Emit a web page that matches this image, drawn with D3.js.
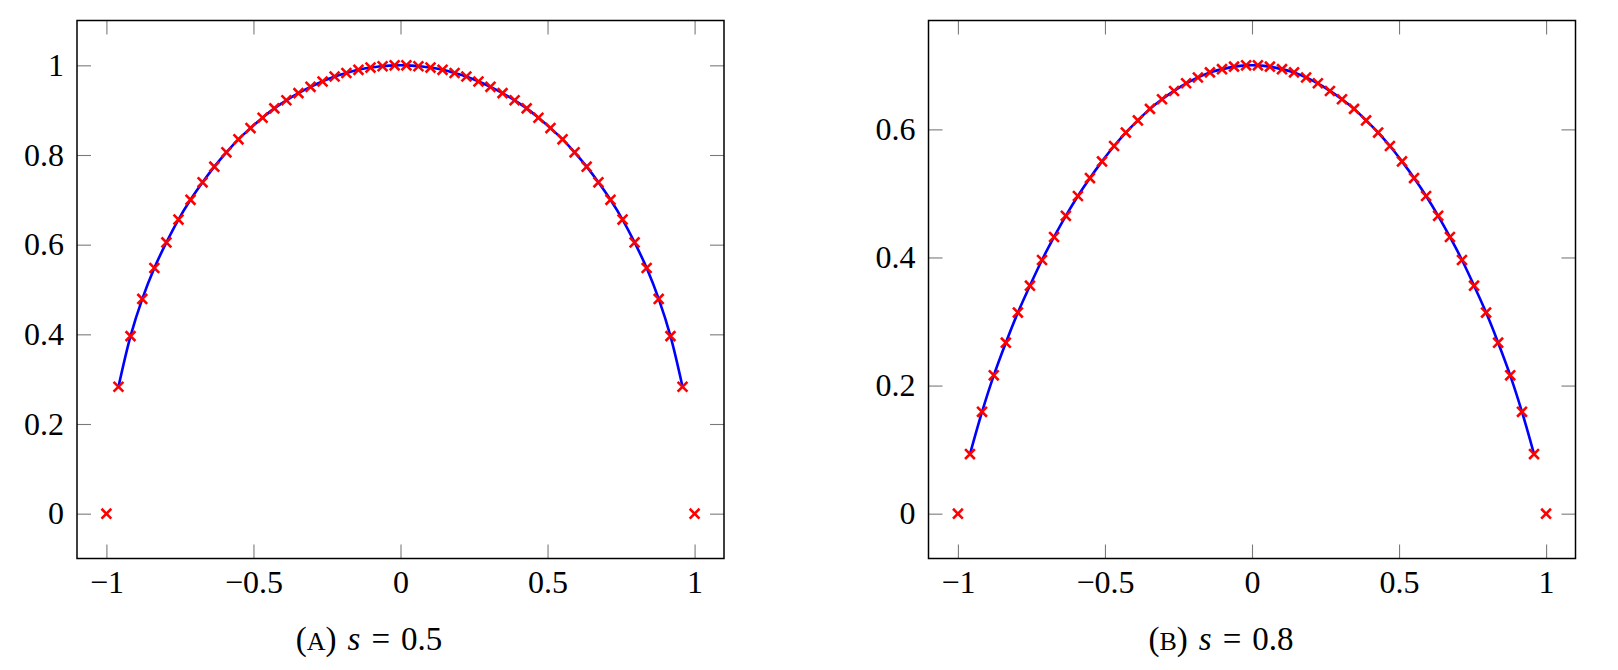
<!DOCTYPE html>
<html><head><meta charset="utf-8">
<script src="https://cdn.jsdelivr.net/npm/d3@7"></script>
<style>
body{margin:0;background:#fff}
svg text{font-family:"Liberation Serif","Times New Roman",serif;fill:#000}
</style>
</head><body>
<svg id="chart" width="1618" height="670"></svg>
<script>
// ---- data ----
const xNodes = [-1, -0.959, -0.918, -0.878, -0.837, -0.796, -0.755, -0.714, -0.673, -0.633,
  -0.592, -0.551, -0.510, -0.469, -0.429, -0.388, -0.347, -0.306, -0.265, -0.224,
  -0.184, -0.143, -0.102, -0.061, -0.020, 0.020, 0.061, 0.102, 0.143, 0.184,
  0.224, 0.265, 0.306, 0.347, 0.388, 0.429, 0.469, 0.510, 0.551, 0.592,
  0.633, 0.673, 0.714, 0.755, 0.796, 0.837, 0.878, 0.918, 0.959, 1];
const yA = [0, 0.283, 0.396, 0.479, 0.548, 0.605, 0.656, 0.700, 0.739, 0.774,
  0.806, 0.835, 0.860, 0.883, 0.904, 0.922, 0.938, 0.952, 0.964, 0.975,
  0.983, 0.990, 0.995, 0.998, 1.000, 1.000, 0.998, 0.995, 0.990, 0.983,
  0.975, 0.964, 0.952, 0.938, 0.922, 0.904, 0.883, 0.860, 0.835, 0.806,
  0.774, 0.739, 0.700, 0.656, 0.605, 0.548, 0.479, 0.396, 0.283, 0];
const yB = [0, 0.093, 0.159, 0.216, 0.267, 0.314, 0.356, 0.396, 0.432, 0.465,
  0.496, 0.524, 0.550, 0.574, 0.595, 0.614, 0.632, 0.647, 0.660, 0.672,
  0.681, 0.689, 0.694, 0.698, 0.700, 0.700, 0.698, 0.694, 0.689, 0.681,
  0.672, 0.660, 0.647, 0.632, 0.614, 0.595, 0.574, 0.550, 0.524, 0.496,
  0.465, 0.432, 0.396, 0.356, 0.314, 0.267, 0.216, 0.159, 0.093, 0];
const xTicks = [-1, -0.5, 0, 0.5, 1];
const yTicksA = [0, 0.2, 0.4, 0.6, 0.8, 1];
const yTicksB = [0, 0.2, 0.4, 0.6];
const captionLetters = ["A", "B"];
const sValues = ["0.5", "0.8"];

// ---- layout ----
const panels = [
  {left: 77, right: 724, top: 20.5, bottom: 558.5, xDom: [-1.1, 1.1], yDom: [-0.1, 1.1],
   ys: yA, yTicks: yTicksA, capX: 369, letter: captionLetters[0], s: sValues[0]},
  {left: 928.5, right: 1575.5, top: 20.5, bottom: 558.5, xDom: [-1.1, 1.1], yDom: [-0.07, 0.77],
   ys: yB, yTicks: yTicksB, capX: 1221, letter: captionLetters[1], s: sValues[1]}
];

const svg = d3.select("#chart");
const TICK = 14, FS = 32, TICK_COLOR = "#7a7a7a";
const fmt = d3.format("");

panels.forEach(p => {
  const x = d3.scaleLinear().domain(p.xDom).range([p.left, p.right]);
  const y = d3.scaleLinear().domain(p.yDom).range([p.bottom, p.top]);
  const g = svg.append("g");

  function styleAxis(sel) {
    sel.select(".domain").remove();
    sel.selectAll(".tick line").attr("stroke", TICK_COLOR).attr("stroke-width", 1.1);
    sel.selectAll(".tick text").attr("font-size", FS).attr("fill", "#000");
  }

  g.append("g").attr("transform", `translate(0,${p.bottom})`)
    .call(d3.axisBottom(x).tickValues(xTicks).tickSize(-TICK).tickPadding(12).tickFormat(fmt))
    .call(styleAxis);
  g.append("g").attr("transform", `translate(0,${p.top})`)
    .call(d3.axisTop(x).tickValues(xTicks).tickSize(-TICK).tickFormat(""))
    .call(styleAxis);
  g.append("g").attr("transform", `translate(${p.left},0)`)
    .call(d3.axisLeft(y).tickValues(p.yTicks).tickSize(-TICK).tickPadding(13).tickFormat(fmt))
    .call(styleAxis);
  g.append("g").attr("transform", `translate(${p.right},0)`)
    .call(d3.axisRight(y).tickValues(p.yTicks).tickSize(-TICK).tickFormat(""))
    .call(styleAxis);

  g.append("rect").attr("x", p.left).attr("y", p.top)
    .attr("width", p.right - p.left).attr("height", p.bottom - p.top)
    .attr("fill", "none").attr("stroke", "#000").attr("stroke-width", 1.5);

  const pts = xNodes.map((xv, i) => ({x: xv, y: p.ys[i]}));
  const interior = pts.slice(1, -1);
  g.append("path").datum(interior)
    .attr("fill", "none").attr("stroke", "#0000ff").attr("stroke-width", 2.6)
    .attr("stroke-linejoin", "round")
    .attr("d", d3.line().x(d => x(d.x)).y(d => y(d.y)).curve(d3.curveCatmullRom));

  const r = 4.9;
  g.append("g").selectAll("path").data(pts).join("path")
    .attr("d", d => {
      const cx = x(d.x), cy = y(d.y);
      return `M${cx - r},${cy - r}L${cx + r},${cy + r}M${cx - r},${cy + r}L${cx + r},${cy - r}`;
    })
    .attr("stroke", "#ff0000").attr("stroke-width", 2.6).attr("fill", "none");

  const cap = g.append("text").attr("x", p.capX).attr("y", 650)
    .attr("text-anchor", "middle").attr("font-size", 33).style("white-space", "pre");
  cap.append("tspan").text("(");
  cap.append("tspan").attr("font-size", 26).text(p.letter);
  cap.append("tspan").text(")\u2004");
  cap.append("tspan").attr("font-style", "italic").text("s");
  cap.append("tspan").text("\u2004=\u2004" + p.s);
});
</script>
</body></html>
